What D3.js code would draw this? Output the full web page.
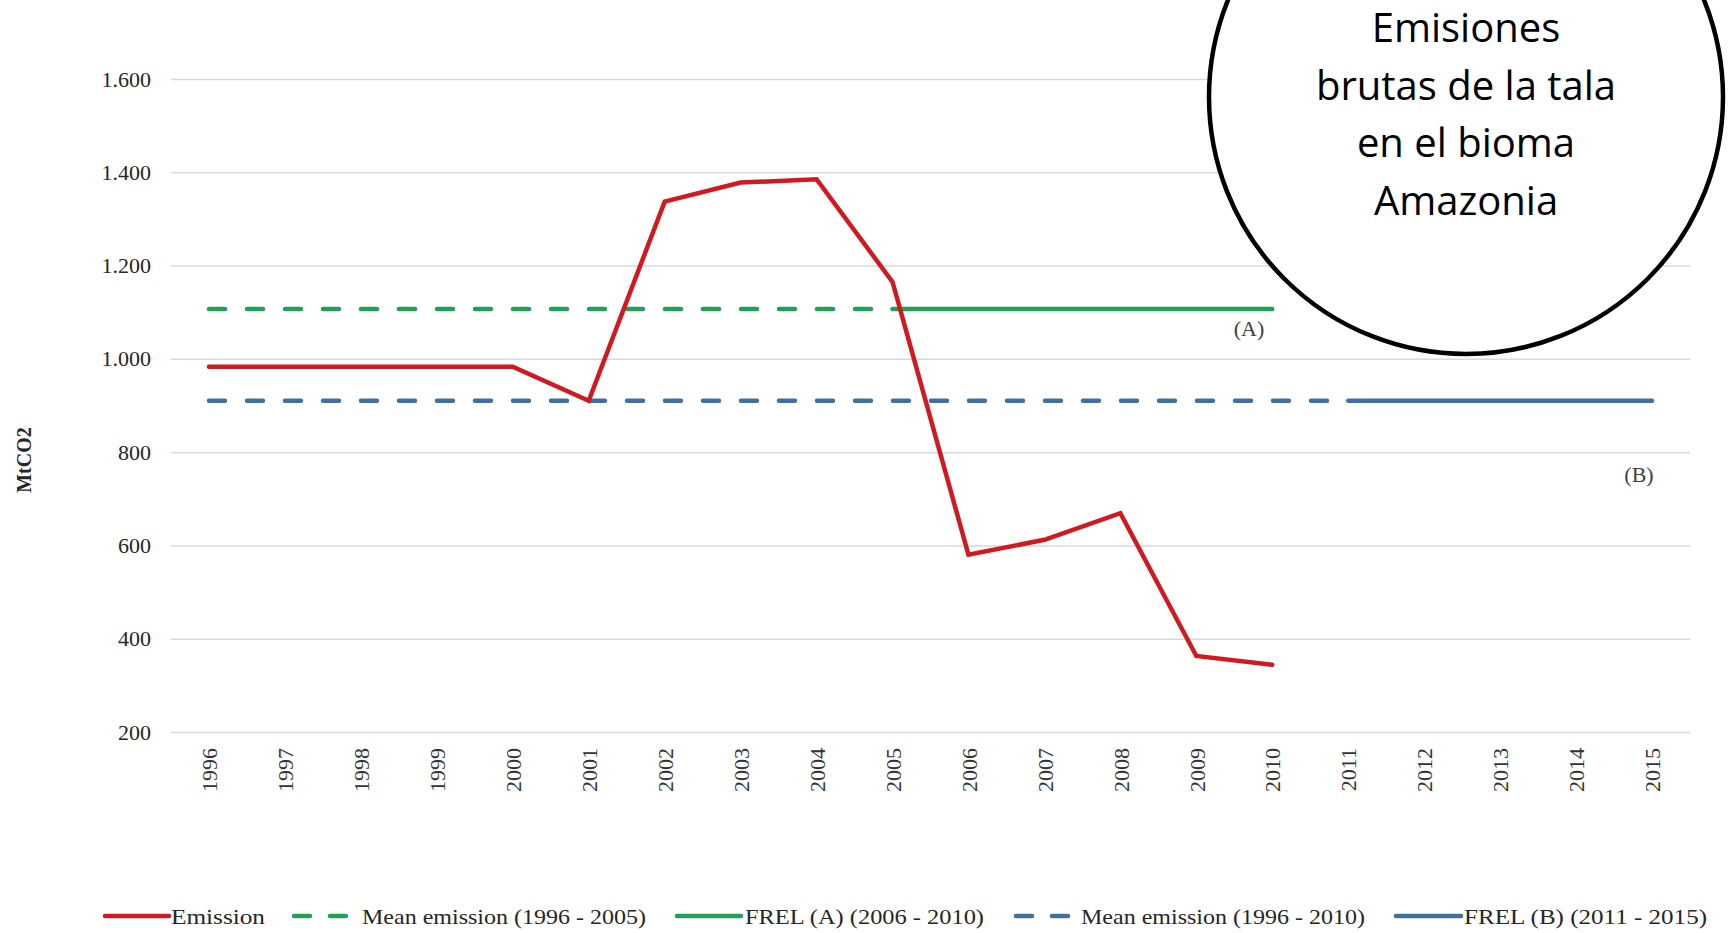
<!DOCTYPE html>
<html>
<head>
<meta charset="utf-8">
<script src="https://cdn.jsdelivr.net/npm/d3@7"></script>
<style>
  body { margin: 0; background: #fff; }
  svg text { font-family: "Liberation Serif", "Times New Roman", serif; }
</style>
</head>
<body>
<script>
// values (MtCO2)
var years = ["1996", "1997", "1998", "1999", "2000", "2001", "2002", "2003", "2004", "2005",
             "2006", "2007", "2008", "2009", "2010", "2011", "2012", "2013", "2014", "2015"];
var emission = [983, 983, 983, 983, 983, 910, 1337, 1378, 1385, 1165, 580, 612, 669, 363, 344];
var meanA = [1107, 1107, 1107, 1107, 1107, 1107, 1107, 1107, 1107, 1107];   // 1996 - 2005
var frelA = [1107, 1107, 1107, 1107, 1107, 1107];                           // 2005 - 2010
var meanB = [910, 910, 910, 910, 910, 910, 910, 910, 910, 910, 910, 910, 910, 910, 910, 910]; // 1996 - 2011
var frelB = [910, 910, 910, 910, 910];                                      // 2011 - 2015
var yTicks = [200, 400, 600, 800, 1000, 1200, 1400, 1600];
var legendNames = ["Emission", "Mean emission (1996 - 2005)", "FREL  (A) (2006 - 2010)",
                   "Mean emission (1996 - 2010)", "FREL  (B) (2011 - 2015)"];
var bubbleLines = ["Emisiones", "brutas de la tala", "en el bioma", "Amazonia"];

var red = "#d01a1f", green = "#22a05a", blue = "#41709c";

var W = 1729, H = 933;
var plot = { left: 171, right: 1690, top: 79, bottom: 732 };

var svg = d3.select("body").append("svg")
            .attr("width", W)
            .attr("height", H);

var x = d3.scalePoint()
          .domain(years)
          .range([plot.left, plot.right])
          .padding(0.5);

var y = d3.scaleLinear()
          .domain([200, 1600])
          .range([plot.bottom, plot.top]);

var fmt = d3.formatLocale({ decimal: ",", thousands: ".", grouping: [3], currency: ["", ""] }).format(",");

// gridlines + y labels
var yAxis = svg.append("g")
               .attr("transform", "translate(" + plot.left + ",0)")
               .call(d3.axisLeft(y).tickValues(yTicks).tickFormat(fmt)
                       .tickSize(-(plot.right - plot.left)).tickPadding(20));
yAxis.select(".domain").remove();
yAxis.selectAll("line").attr("stroke", "#d9d9d9").attr("stroke-width", 1.5);
yAxis.selectAll("text")
     .attr("font-size", 22)
     .attr("fill", "#262626");

// x labels (rotated)
var xAxis = svg.append("g")
               .attr("transform", "translate(0," + plot.bottom + ")")
               .call(d3.axisBottom(x).tickSize(0));
xAxis.select(".domain").remove();
xAxis.selectAll("text")
     .attr("font-size", 22)
     .attr("fill", "#333")
     .attr("text-anchor", "end")
     .attr("dy", "0.35em")
     .attr("transform", "translate(0,16) rotate(-90)")
     .attr("x", 0)
     .attr("y", 0);

svg.append("text")
   .attr("transform", "translate(31,460) rotate(-90)")
   .attr("text-anchor", "middle")
   .attr("font-size", 20)
   .attr("font-weight", "bold")
   .attr("fill", "#262626")
   .text("MtCO2");

var line = d3.line()
             .x(function(d) { return x(d.year); })
             .y(function(d) { return y(d.value); });

function series(values, startYear) {
  var i0 = years.indexOf(startYear);
  return values.map(function(v, i) { return { year: years[i0 + i], value: v }; });
}

var lines = [
  { data: series(meanB, "1996"), color: blue, dash: "16,22" },
  { data: series(frelB, "2011"), color: blue, dash: null },
  { data: series(meanA, "1996"), color: green, dash: "16,22" },
  { data: series(frelA, "2005"), color: green, dash: null },
  { data: series(emission, "1996"), color: red, dash: null }
];

svg.selectAll("path.series")
   .data(lines)
   .enter()
   .append("path")
   .attr("class", "series")
   .attr("d", function(d) { return line(d.data); })
   .attr("fill", "none")
   .attr("stroke", function(d) { return d.color; })
   .attr("stroke-width", 4.5)
   .attr("stroke-linecap", "round")
   .attr("stroke-linejoin", "miter")
   .attr("stroke-dasharray", function(d) { return d.dash; });

svg.append("text")
   .attr("x", 1249).attr("y", 336)
   .attr("text-anchor", "middle")
   .attr("font-size", 22)
   .attr("fill", "#404040")
   .text("(A)");

svg.append("text")
   .attr("x", 1639).attr("y", 482)
   .attr("text-anchor", "middle")
   .attr("font-size", 22)
   .attr("fill", "#404040")
   .text("(B)");

// legend
var legendY = 916;
var legend = [
  { x1: 105, x2: 169, tx: 171, tw: 94, color: red, dash: null },
  { x1: 294, x2: 350, tx: 362, tw: 284, color: green, dash: "16,20" },
  { x1: 677, x2: 741, tx: 745, tw: 239, color: green, dash: null },
  { x1: 1016, x2: 1072, tx: 1081, tw: 284, color: blue, dash: "16,20" },
  { x1: 1396, x2: 1461, tx: 1464, tw: 243, color: blue, dash: null }
];

var lg = svg.selectAll("g.legend")
            .data(legend)
            .enter()
            .append("g")
            .attr("class", "legend");

lg.append("line")
  .attr("x1", function(d) { return d.x1; })
  .attr("x2", function(d) { return d.x2; })
  .attr("y1", legendY)
  .attr("y2", legendY)
  .attr("stroke", function(d) { return d.color; })
  .attr("stroke-width", 4.5)
  .attr("stroke-linecap", "round")
  .attr("stroke-dasharray", function(d) { return d.dash; });

lg.append("text")
  .attr("x", function(d) { return d.tx; })
  .attr("y", legendY + 8)
  .attr("font-size", 22)
  .attr("fill", "#262626")
  .attr("textLength", function(d) { return d.tw; })
  .attr("lengthAdjust", "spacingAndGlyphs")
  .text(function(d, i) { return legendNames[i]; });

// callout bubble
svg.append("circle")
   .attr("cx", 1466)
   .attr("cy", 97)
   .attr("r", 257)
   .attr("fill", "#fff")
   .attr("stroke", "#000")
   .attr("stroke-width", 4.5);

svg.selectAll("text.bubble")
   .data(bubbleLines)
   .enter()
   .append("text")
   .attr("class", "bubble")
   .attr("x", 1466)
   .attr("y", function(d, i) { return 42 + i * 57.7; })
   .attr("text-anchor", "middle")
   .style("font-family", "'Open Sans', sans-serif")
   .attr("font-size", 40)
   .attr("fill", "#000")
   .text(function(d) { return d; });
</script>
</body>
</html>
